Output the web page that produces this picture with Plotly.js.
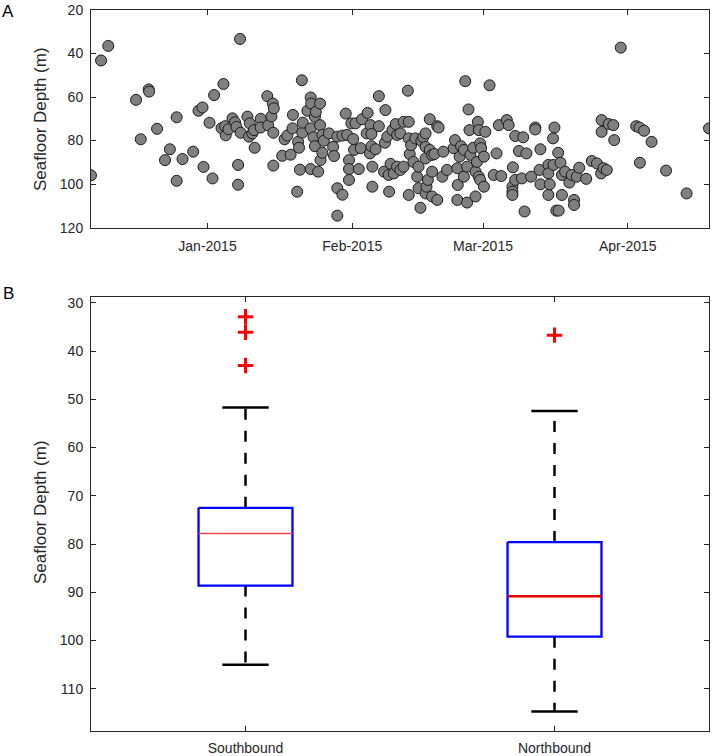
<!DOCTYPE html>
<html><head><meta charset="utf-8">
<script src="https://cdn.plot.ly/plotly-3.0.1.min.js"></script>
<style>html,body{margin:0;padding:0;background:#fff}#chart{width:718px;height:756px}</style>
</head><body><div id="chart"></div>
<script>
// Panel A: days since 2015-01-01 and seafloor depth (m)
const dayOffset = [
 -24.95,-22.8,-21.25,-15.3,-14.3,-12.6,-12.5,-10.8,-9.1,-8.06,
 -6.6,-6.6,-5.35,-3.07,-1.93,-1.07,-0.86,0.43,1.07,1.41,
 3.0,3.42,3.77,3.9,4.5,5.35,5.9,6.2,6.55,6.55,
 6.97,7.1,8.55,8.9,9.05,9.6,9.97,10.1,11.4,11.4,
 12.8,13.0,13.7,14.0,14.1,14.1,14.2,16.0,16.5,17.1,
 17.8,18.2,18.3,19.2,19.4,19.6,19.8,20.2,20.3,20.4,
 21.4,22.1,22.1,22.1,22.2,22.7,23.0,23.0,23.2,23.7,
 24.1,24.1,24.2,24.6,24.6,24.9,26.0,26.9,27.1,27.8,
 27.8,27.8,28.9,28.9,29.6,29.9,30.3,30.3,30.3,30.8,
 31.2,31.4,31.7,32.4,32.8,33.1,34.1,34.3,34.8,34.9,
 35.1,35.1,35.3,35.3,36.0,36.7,36.7,37.8,38.0,38.1,
 38.5,38.8,38.9,39.2,39.6,39.9,40.3,40.6,40.6,41.3,
 41.3,42.0,42.0,42.9,43.1,43.1,43.1,43.3,43.6,44.1,
 44.5,44.9,45.2,45.2,45.6,45.8,46.2,46.7,46.7,46.7,
 46.7,46.9,47.2,47.6,47.6,48.1,48.1,48.1,48.6,49.2,
 49.2,49.5,50.3,50.5,51.3,52.7,53.0,53.5,53.5,53.6,
 54.0,54.3,54.9,54.9,55.2,55.6,55.6,55.9,56.1,56.3,
 56.9,57.4,57.4,57.7,57.9,58.1,58.1,58.4,58.4,58.6,
 59.2,59.2,59.5,60.4,61.3,61.9,62.4,62.9,64.1,64.5,
 65.3,65.3,65.3,65.4,65.9,65.9,66.7,67.3,67.6,67.9,
 68.3,69.3,70.2,70.2,71.1,71.3,71.3,73.0,73.0,73.0,
 73.3,74.0,74.1,74.3,74.7,75.1,75.2,75.6,75.9,75.9,
 76.6,77.5,78.0,78.5,78.5,79.1,79.6,81.1,82.3,83.4,
 84.3,84.4,84.4,84.8,85.5,85.9,86.9,87.1,88.5,91.8,
 92.5,92.6,93.5,95.1,98.2,102.6,107.4
];
const depthM = [
 96.0,43.2,36.5,61.3,79.4,56.5,57.5,74.6,89.0,84.0,
 69.3,98.5,88.5,85.1,66.3,64.8,92.1,71.8,97.4,59.1,
 74.3,54.0,73.4,77.6,74.8,69.8,71.6,73.7,91.2,100.3,
 33.3,76.4,69.0,78.2,72.1,76.7,75.2,83.3,70.0,74.0,
 59.6,73.0,68.9,63.0,76.4,91.5,65.2,87.0,79.4,77.7,
 86.5,74.4,68.2,103.5,80.6,83.3,93.4,52.3,76.4,71.8,
 66.3,60.2,74.4,93.1,63.0,78.5,69.1,82.6,66.8,94.3,
 63.0,72.9,89.0,77.4,85.6,80.1,76.7,82.9,87.1,78.2,
 101.9,114.5,77.7,104.9,67.6,77.4,89.0,93.1,98.1,72.1,
 79.3,84.3,72.1,93.1,83.5,70.2,76.7,67.3,85.9,72.9,
 77.0,82.6,92.0,101.2,84.0,59.6,73.4,94.3,81.0,66.0,
 78.2,95.8,103.5,90.7,75.2,95.1,72.4,77.4,92.0,76.7,
 93.5,71.4,92.0,57.1,71.4,79.0,105.0,86.2,82.1,89.8,
 79.0,96.6,92.0,101.9,110.9,80.1,78.5,76.7,82.9,88.2,
 104.3,101.2,98.1,70.2,84.3,94.3,105.7,86.6,86.2,73.4,
 107.3,74.0,96.6,85.1,93.5,83.5,79.8,92.7,107.3,100.4,
 87.4,82.6,84.3,96.6,52.7,92.0,108.5,65.7,75.2,86.6,
 83.3,94.3,105.7,89.8,71.4,75.2,96.6,81.3,98.1,83.5,
 87.4,101.2,76.0,54.6,95.8,85.9,72.9,96.3,70.6,72.9,
 101.2,103.5,105.0,92.3,77.9,98.1,84.8,97.4,78.5,112.6,
 85.9,96.6,74.0,74.9,93.5,84.0,100.1,91.2,95.1,105.0,
 100.1,79.0,91.2,74.0,112.2,85.6,112.2,90.2,95.8,105.0,
 94.3,99.3,95.8,107.3,109.6,96.6,92.5,97.6,89.4,90.5,
 95.1,70.6,76.0,92.7,93.5,72.4,72.9,79.8,37.3,73.4,
 74.0,90.2,75.5,80.6,93.8,104.3,74.4
];
const monthTicks = ['2015-01-01','2015-02-01','2015-03-01','2015-04-01'];
const monthLabels = ['Jan-2015','Feb-2015','Mar-2015','Apr-2015'];
const depthTicksA = [20,40,60,80,100,120];

// Panel B: box plot statistics
const groups = ['Southbound','Northbound'];
const whiskerTop = [51.7, 52.4];
const q1 = [72.5, 79.6];
const medians = [77.8, 90.8];
const q3 = [88.6, 99.2];
const whiskerBottom = [105.0, 114.7];
const outlierGroup = [1, 1, 1, 2];
const outlierDepth = [32.9, 36.1, 43.0, 36.7];
const depthTicksB = [30,40,50,60,70,80,90,100,110];

const DAY = 86400000;
const base = Date.UTC(2015,0,1);
const toDate = d => new Date(base + d*DAY).toISOString().replace('T',' ').slice(0,19);
const xDates = dayOffset.map(toDate);

const FONT = 'Liberation Sans, Arial, Helvetica, sans-serif';
const TXT = '#262626';
const traces = [];
traces.push({
  type:'scatter', mode:'markers', x:xDates, y:depthM, xaxis:'x', yaxis:'y',
  marker:{size:11, color:'#808080', line:{color:'#1a1a1a', width:1}},
  hoverinfo:'x+y', showlegend:false
});

const hw = 0.152, cw = 0.075;
groups.forEach((g,i) => {
  const p = i+1;
  traces.push({type:'scatter', mode:'lines', xaxis:'x2', yaxis:'y2', showlegend:false,
    x:[p,p], y:[q1[i], whiskerTop[i]], line:{color:'#000', width:2.5, dash:'11px,11px'}});
  traces.push({type:'scatter', mode:'lines', xaxis:'x2', yaxis:'y2', showlegend:false,
    x:[p,p], y:[q3[i], whiskerBottom[i]], line:{color:'#000', width:2.5, dash:'11px,11px'}});
  traces.push({type:'scatter', mode:'lines', xaxis:'x2', yaxis:'y2', showlegend:false,
    x:[p-cw,p+cw], y:[whiskerTop[i],whiskerTop[i]], line:{color:'#000', width:2.5}});
  traces.push({type:'scatter', mode:'lines', xaxis:'x2', yaxis:'y2', showlegend:false,
    x:[p-cw,p+cw], y:[whiskerBottom[i],whiskerBottom[i]], line:{color:'#000', width:2.5}});
  traces.push({type:'scatter', mode:'lines', xaxis:'x2', yaxis:'y2', showlegend:false,
    x:[p-hw,p+hw,p+hw,p-hw,p-hw], y:[q1[i],q1[i],q3[i],q3[i],q1[i]],
    line:{color:'#0000ff', width:2.3}});
  traces.push({type:'scatter', mode:'lines', xaxis:'x2', yaxis:'y2', showlegend:false,
    x:[p-hw,p+hw], y:[medians[i],medians[i]],
    line:{color: i===0 ? '#f04848' : '#e00000', width: i===0 ? 1.5 : 2.5}});
});
traces.push({type:'scatter', mode:'markers', xaxis:'x2', yaxis:'y2', showlegend:false,
  x:outlierGroup, y:outlierDepth,
  marker:{symbol:'cross-thin', size:11, color:'#ff0000', line:{color:'#ff0000', width:3}}});

const axisStyle = {
  showline:true, linecolor:TXT, linewidth:1, mirror:'ticks', ticks:'inside',
  ticklen:5, tickwidth:1, tickcolor:TXT, showgrid:false, zeroline:false,
  tickfont:{family:FONT, size:14, color:TXT}
};

const layout = {
  width:718, height:756, paper_bgcolor:'#fff', plot_bgcolor:'#fff',
  margin:{l:91, r:9, t:10, b:25},
  showlegend:false,
  xaxis:Object.assign({}, axisStyle, {domain:[0,1], anchor:'y', type:'date',
    range:[toDate(-24.95), toDate(107.4)], tickmode:'array', tickvals:monthTicks,
    ticktext:monthLabels, ticklabelstandoff:6}),
  yaxis:Object.assign({}, axisStyle, {domain:[0.6982,1], anchor:'x',
    range:[120,20], tickmode:'array', tickvals:depthTicksA, ticklabelstandoff:4}),
  xaxis2:Object.assign({}, axisStyle, {domain:[0,1], anchor:'y2',
    range:[0.5,2.5], tickmode:'array', tickvals:[1,2], ticktext:groups, ticklabelstandoff:4}),
  yaxis2:Object.assign({}, axisStyle, {domain:[0,0.6019], anchor:'x2',
    range:[118.75,28.8], tickmode:'array', tickvals:depthTicksB, ticklabelstandoff:4}),
  annotations:[
    {text:'A', xref:'paper', yref:'paper', x:-0.135, y:0.9986, xanchor:'center', yanchor:'middle',
     showarrow:false, font:{family:FONT, size:17, color:'#000'}},
    {text:'B', xref:'paper', yref:'paper', x:-0.134, y:0.6068, xanchor:'center', yanchor:'middle',
     showarrow:false, font:{family:FONT, size:17, color:'#000'}},
    {text:'Seafloor Depth (m)', xref:'paper', yref:'paper', x:-0.0825, y:0.8488, textangle:-90,
     xanchor:'center', yanchor:'middle', showarrow:false, font:{family:FONT, size:17, color:TXT}},
    {text:'Seafloor Depth (m)', xref:'paper', yref:'paper', x:-0.0825, y:0.3037, textangle:-90,
     xanchor:'center', yanchor:'middle', showarrow:false, font:{family:FONT, size:17, color:TXT}}
  ]
};
Plotly.newPlot('chart', traces, layout, {staticPlot:true, displayModeBar:false});
</script>
</body></html>
